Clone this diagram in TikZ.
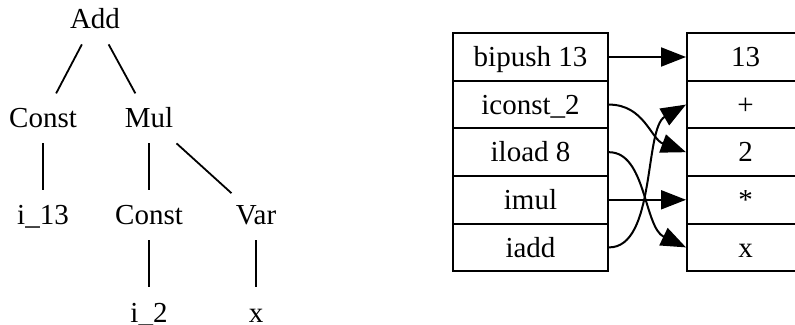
\documentclass[tikz,border=0pt]{standalone}
\usepackage{fontspec}
\setmainfont{Liberation Serif}
\usetikzlibrary{arrows.meta}
\begin{document}
\begin{tikzpicture}[x=0.5pt,y=-0.5pt,
  lbl/.style={font=\fontsize{14.5pt}{17pt}\selectfont, text height=9.6pt, text depth=0pt},
  tn/.style={lbl, anchor=base, inner xsep=2pt, inner ysep=7.5pt},
  te/.style={line width=0.9pt},
  cell/.style={lbl, draw, line width=1pt, inner sep=0pt, minimum height=23.8pt, anchor=center},
  lcell/.style={cell, minimum width=77.5pt},
  rcell/.style={cell, minimum width=58.5pt},
  ar/.style={line width=1pt, -{Triangle[length=12.5pt,width=9.5pt]}},
]
\useasboundingbox (0,0) rectangle (795,325);
\clip (0,0) rectangle (795,325);
% tree
\node[tn] (add) at (95,29) {Add};
\node[tn] (c1) at (43,128) {Const};
\node[tn] (mul) at (149,128) {Mul};
\node[tn] (i13) at (43,225) {i\_13};
\node[tn] (c2) at (149,225) {Const};
\node[tn] (var) at (256,225) {Var};
\node[tn] (i2) at (149,322) {i\_2};
\node[tn] (xx) at (256,322) {x};
\draw[te] (add) -- (c1);
\draw[te] (add) -- (mul);
\draw[te] (c1) -- (i13);
\draw[te] (mul) -- (c2);
\draw[te] (mul) -- (var);
\draw[te] (c2) -- (i2);
\draw[te] (var) -- (xx);
% left table
\node[lcell] (l1) at (530.5,57) {bipush 13};
\node[lcell] (l2) at (530.5,104.6) {iconst\_2};
\node[lcell] (l3) at (530.5,152.2) {iload 8};
\node[lcell] (l4) at (530.5,199.8) {imul};
\node[lcell] (l5) at (530.5,247.4) {iadd};
% right table
\node[rcell] (r1) at (745.5,57) {13};
\node[rcell] (r2) at (745.5,104.6) {+};
\node[rcell] (r3) at (745.5,152.2) {2};
\node[rcell] (r4) at (745.5,199.8) {*};
\node[rcell] (r5) at (745.5,247.4) {x};
% arrows
\draw[ar] (l1.east) -- (r1.west);
\draw[ar] (l2.east) .. controls +(35,0) and +(-35,-13) .. (r3.west);
\draw[ar] (l3.east) .. controls +(37,0) and +(-42,-20) .. (r5.west);
\draw[ar] (l4.east) -- (r4.west);
\draw[ar] (l5.east) .. controls +(47,0) and +(-42,24) .. (r2.west);
\end{tikzpicture}
\end{document}
